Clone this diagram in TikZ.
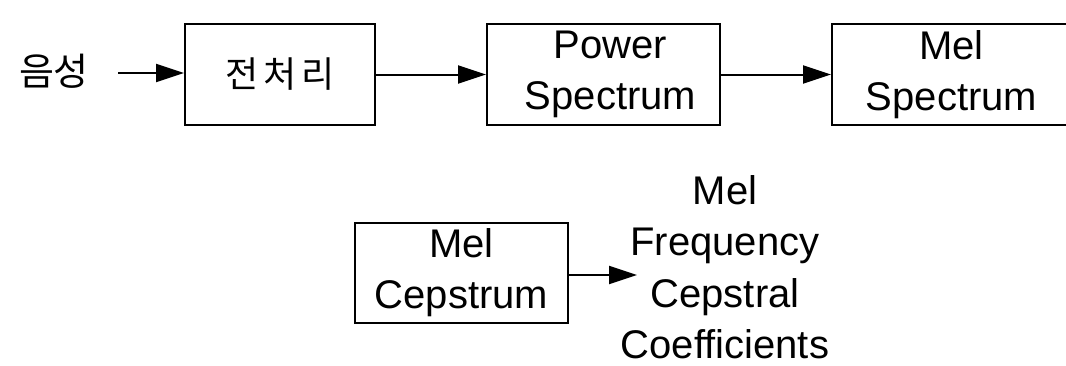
\documentclass[tikz,border=0pt]{standalone}
\usepackage{fontspec}
\setmainfont{Liberation Sans}
\newfontfamily\kofont{Noto Sans CJK KR}
\usetikzlibrary{arrows.meta}
\tikzset{
  blk/.style={draw, line width=2pt, inner sep=0pt, align=center, font=\fontsize{40}{51}\selectfont},
  lbl/.style={inner sep=0pt, align=center, font=\fontsize{40}{51.5}\selectfont},
  flow/.style={line width=2pt, -{Triangle[length=28pt,width=18pt]}}
}
\begin{document}
\begin{tikzpicture}[x=1pt,y=-1pt]
\useasboundingbox (0,0) rectangle (1066,365);
\node[lbl, font=\kofont\fontsize{38}{40}\selectfont] (in) at (54,71) {음성};
\node[blk, minimum width=190pt, minimum height=101pt, font=\kofont\fontsize{36}{40}\selectfont] (pre) at (280,74.5) {전\hspace{5pt}처\hspace{5pt}리};
\node[blk, minimum width=233pt, minimum height=101pt] (pow) at (603.5,74.5) {\hspace{14pt}Power\\\hspace{14pt}Spectrum};
\node[blk, minimum width=239pt, minimum height=101pt, anchor=west] (mel) at (831,74.5) {Mel\\Spectrum\hspace{16pt}};
\node[blk, minimum width=213pt, minimum height=100pt] (ceps) at (461.5,273) {Mel\\Cepstrum};
\node[lbl] (mfcc) at (725,267) {Mel\\Frequency\\Cepstral\\Coefficients};
\coordinate (src) at (118,73);
\coordinate (mfccin) at (637,275);
\draw[flow] (src) -- (pre.west |- src);
\draw[flow] (pre.east) -- (pow.west);
\draw[flow] (pow.east) -- (mel.west);
\draw[flow] (ceps.east |- mfccin) -- (mfccin);
\end{tikzpicture}
\end{document}
